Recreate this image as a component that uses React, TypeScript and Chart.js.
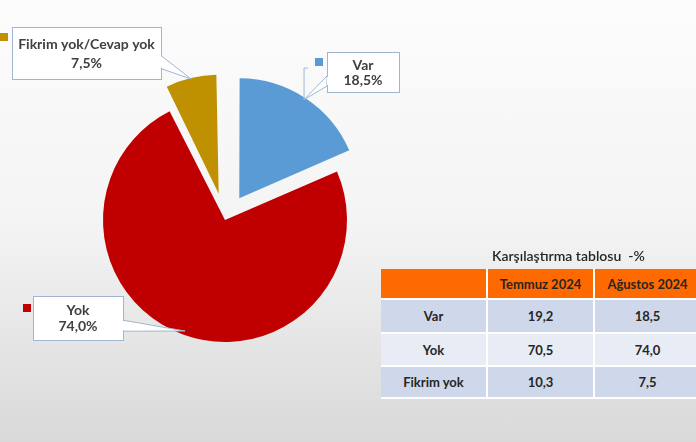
import React, { useEffect, useRef } from "react";
import { Chart, registerables } from "chart.js";

Chart.register(...registerables);

const categories = ["Var", "Yok", "Fikrim yok/Cevap yok"];
const values = [18.5, 74.0, 7.5];
const valueLabels = ["18,5%", "74,0%", "7,5%"];
const sliceColors = ["#5b9bd5", "#c00000", "#bf9000"];
const sliceOffsets = [26, 0, 27];

const tableTitle = "Karşılaştırma tablosu  -%";
const tableHeaders = ["", "Temmuz 2024", "Ağustos 2024"];
const tableRows = ["Var", "Yok", "Fikrim yok"];
const julyValues = ["19,2", "70,5", "10,3"];
const augustValues = ["18,5", "74,0", "7,5"];

const FONT = "Lato, 'Open Sans', sans-serif";

// callout box geometry (layout only)
const callouts = [
  { box: [327, 52, 72, 40], sq: [315, 58], tail: "left" },
  { box: [33, 296, 90, 44], sq: [23, 304], tail: "right" },
  { box: [12, 27, 149, 52], sq: [0, 33], tail: "right" },
];

const radiusFixPlugin = {
  id: "radiusFix",
  beforeDatasetsDraw(chart: any) {
    const meta = chart.getDatasetMeta(0);
    const base = meta.controller.outerRadius;
    meta.data.forEach((arc: any, i: number) => {
      const circ = arc.endAngle - arc.startAngle;
      const fix = 1 - Math.sin(Math.min(Math.PI, circ));
      arc.outerRadius = base - sliceOffsets[i] * fix - (i === 0 ? 2 : i === 2 ? 3 : 0);
    });
  },
};

const calloutPlugin = {
  id: "callouts",
  afterDatasetsDraw(chart: any) {
    const ctx = chart.ctx;
    const meta = chart.getDatasetMeta(0);
    const base = meta.controller.outerRadius;
    meta.data.forEach((arc: any, i: number) => {
      const mid = (arc.startAngle + arc.endAngle) / 2;
      const off = sliceOffsets[i];
      const ax = arc.x + Math.cos(mid) * (base + off - 4);
      const ay = arc.y + Math.sin(mid) * (base + off - 4);
      const c = callouts[i];
      const [bx, by, bw, bh] = c.box;
      ctx.save();
      ctx.strokeStyle = "#9fb6d3";
      ctx.lineWidth = 1;
      ctx.fillStyle = "#ffffff";
      ctx.beginPath();
      if (c.tail === "right") {
        ctx.moveTo(bx + bw, by + bh * 0.55);
        ctx.lineTo(ax, ay);
        ctx.lineTo(bx + bw, by + bh * 0.8);
      } else {
        ctx.moveTo(bx, by + bh * 0.6);
        ctx.lineTo(ax, ay);
        ctx.lineTo(bx, by + bh * 0.85);
      }
      ctx.closePath();
      ctx.fill();
      ctx.stroke();
      if (c.tail === "left") {
        ctx.beginPath();
        ctx.moveTo(ax, ay);
        ctx.lineTo(ax, by + 16);
        ctx.lineTo(ax + 4, by + 16);
        ctx.stroke();
      }
      ctx.fillRect(bx, by, bw, bh);
      ctx.strokeRect(bx + 0.5, by + 0.5, bw, bh);
      ctx.fillStyle = "#ffffff";
      if (c.tail === "right") ctx.fillRect(bx + bw - 1, by + bh * 0.55 + 1, 2, bh * 0.25 - 2);
      else ctx.fillRect(bx, by + bh * 0.6 + 1, 2, bh * 0.25 - 2);
      ctx.fillStyle = sliceColors[i];
      ctx.fillRect(c.sq[0], c.sq[1], 8, 8);
      ctx.fillStyle = "#404040";
      ctx.font = `bold 14px ${FONT}`;
      ctx.textAlign = "center";
      ctx.textBaseline = "middle";
      ctx.fillText(categories[i], bx + bw / 2, by + bh * 0.33);
      ctx.fillText(valueLabels[i], bx + bw / 2, by + bh * 0.7);
      ctx.restore();
    });
  },
};

export default function App() {
  const ref = useRef<HTMLCanvasElement>(null);
  useEffect(() => {
    if (!ref.current) return;
    const chart = new Chart(ref.current, {
      type: "pie",
      data: {
        labels: categories,
        datasets: [
          {
            data: values,
            backgroundColor: sliceColors,
            borderColor: sliceColors,
            borderWidth: 0,
            offset: sliceOffsets.map((o) => o * 4),
          },
        ],
      },
      options: {
        responsive: false,
        animation: false,
        devicePixelRatio: 1,
        layout: { padding: { left: 49, right: 295, top: 44, bottom: 46 } },
        plugins: {
          legend: { display: false },
          tooltip: { enabled: false },
        },
      },
      plugins: [radiusFixPlugin, calloutPlugin],
    });
    return () => chart.destroy();
  }, []);

  const cell: React.CSSProperties = {
    fontFamily: FONT,
    fontWeight: 700,
    fontSize: 13,
    color: "#262626",
    textAlign: "center",
    padding: 0,
    borderRight: "2px solid #ffffff",
    borderBottom: "2px solid #ffffff",
  };
  const rowBg = ["#cfd8ea", "#e8ecf5", "#cfd8ea"];
  const rowH = [34, 33, 32];

  return (
    <div
      style={{
        position: "fixed",
        left: 0,
        top: 0,
        width: 696,
        height: 442,
        background: "linear-gradient(to bottom, #fcfcfc 0%, #f4f4f4 50%, #d9d9d9 100%)",
        overflow: "hidden",
      }}
    >
      <canvas ref={ref} width={696} height={442} style={{ position: "absolute", left: 0, top: 0 }} />
      <div
        style={{
          position: "absolute",
          left: 492,
          top: 247,
          fontFamily: FONT,
          fontSize: 14,
          fontWeight: 600,
          color: "#262626",
          whiteSpace: "pre",
        }}
      >
        {tableTitle}
      </div>
      <table
        style={{
          position: "absolute",
          left: 381,
          top: 269,
          width: 317,
          borderCollapse: "collapse",
          tableLayout: "fixed",
        }}
      >
        <tbody>
          <tr style={{ height: 30, background: "#ff6a00" }}>
            {tableHeaders.map((h, i) => (
              <td key={i} style={{ ...cell, width: 105 }}>
                {h}
              </td>
            ))}
          </tr>
          {tableRows.map((r, i) => (
            <tr key={r} style={{ height: rowH[i], background: rowBg[i] }}>
              <td style={cell}>{r}</td>
              <td style={cell}>{julyValues[i]}</td>
              <td style={cell}>{augustValues[i]}</td>
            </tr>
          ))}
        </tbody>
      </table>
    </div>
  );
}
